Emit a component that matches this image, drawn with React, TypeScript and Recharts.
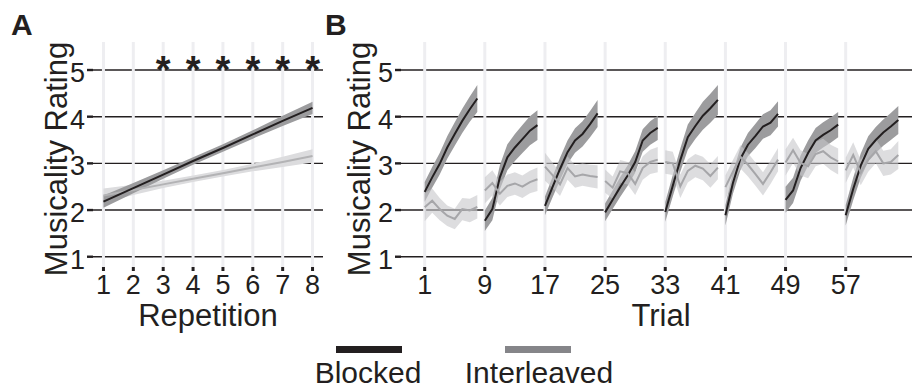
import React from 'react';
import { ComposedChart, Line, Area, XAxis, YAxis, CartesianGrid, Scatter } from 'recharts';

// ---------- Panel A: rating by repetition ----------
const repetitions = [1, 2, 3, 4, 5, 6, 7, 8];
const repBlocked = [2.18, 2.47, 2.76, 3.05, 3.33, 3.62, 3.91, 4.19];
const repBlockedSE = [0.13, 0.11, 0.09, 0.08, 0.08, 0.09, 0.11, 0.13];
const repInterleaved = [2.31, 2.43, 2.55, 2.67, 2.79, 2.91, 3.03, 3.16];
const repInterleavedSE = [0.15, 0.11, 0.08, 0.07, 0.07, 0.08, 0.11, 0.14];
const sigRepetitions = [3, 4, 5, 6, 7, 8];
const sigLevel = 5.17;

// ---------- Panel B: rating by trial ----------
const trialsPerBlock = 8;
const trialTicks = [1, 9, 17, 25, 33, 41, 49, 57];
const ratingTicks = [1, 2, 3, 4, 5];

const trialBlocked = [
  2.39, 2.70, 2.99, 3.34, 3.63, 3.91, 4.16, 4.39,
  1.77, 2.02, 2.70, 3.13, 3.34, 3.52, 3.70, 3.82,
  2.09, 2.49, 2.88, 3.24, 3.49, 3.63, 3.84, 4.07,
  1.95, 2.22, 2.49, 2.74, 3.03, 3.49, 3.65, 3.76,
  1.96, 2.52, 3.07, 3.56, 3.80, 4.02, 4.18, 4.36,
  1.89, 2.58, 3.10, 3.40, 3.59, 3.79, 3.87, 4.06,
  2.22, 2.42, 2.90, 3.22, 3.49, 3.61, 3.71, 3.83,
  1.89, 2.45, 2.95, 3.31, 3.50, 3.66, 3.79, 3.93,
];
const trialBlockedSE = [
  0.21, 0.22, 0.23, 0.24, 0.25, 0.26, 0.27, 0.29,
  0.22, 0.24, 0.26, 0.28, 0.29, 0.30, 0.31, 0.32,
  0.20, 0.22, 0.24, 0.25, 0.26, 0.27, 0.28, 0.29,
  0.19, 0.20, 0.21, 0.22, 0.23, 0.24, 0.25, 0.26,
  0.21, 0.23, 0.25, 0.27, 0.28, 0.30, 0.31, 0.32,
  0.22, 0.23, 0.24, 0.25, 0.26, 0.26, 0.27, 0.27,
  0.28, 0.27, 0.27, 0.27, 0.27, 0.27, 0.27, 0.27,
  0.22, 0.24, 0.26, 0.27, 0.28, 0.28, 0.29, 0.30,
];
const trialInterleaved = [
  2.06, 2.20, 2.02, 1.88, 1.81, 2.02, 1.99, 2.07,
  2.42, 2.58, 2.35, 2.52, 2.57, 2.50, 2.60, 2.66,
  2.93, 2.75, 2.55, 2.90, 2.72, 2.76, 2.73, 2.71,
  2.62, 2.48, 2.83, 2.79, 2.56, 2.90, 3.03, 3.08,
  3.03, 3.00, 2.51, 2.84, 2.95, 2.89, 2.73, 2.91,
  2.49, 2.82, 3.14, 2.97, 2.77, 2.56, 2.81, 3.08,
  3.02, 3.28, 3.01, 2.94, 3.20, 3.26, 3.13, 3.04,
  2.85, 3.18, 2.80, 3.08, 3.26, 3.00, 3.03, 3.18,
];
const trialInterleavedSE = [
  0.30, 0.26, 0.24, 0.22, 0.22, 0.24, 0.25, 0.25,
  0.28, 0.27, 0.25, 0.24, 0.24, 0.24, 0.24, 0.25,
  0.30, 0.27, 0.25, 0.25, 0.24, 0.24, 0.24, 0.25,
  0.25, 0.24, 0.24, 0.24, 0.24, 0.25, 0.26, 0.27,
  0.25, 0.25, 0.25, 0.25, 0.25, 0.25, 0.25, 0.25,
  0.25, 0.25, 0.25, 0.25, 0.25, 0.25, 0.25, 0.25,
  0.28, 0.27, 0.27, 0.26, 0.26, 0.27, 0.27, 0.28,
  0.27, 0.27, 0.27, 0.26, 0.26, 0.27, 0.27, 0.30,
];

const INK = '#231f20';
const FONT = '"Liberation Sans", Arial, Helvetica, sans-serif';

const repData = repetitions.map((rep, k) => ({
  rep,
  b: repBlocked[k],
  bRange: [repBlocked[k] - repBlockedSE[k], repBlocked[k] + repBlockedSE[k]],
  i: repInterleaved[k],
  iRange: [repInterleaved[k] - repInterleavedSE[k], repInterleaved[k] + repInterleavedSE[k]],
}));
const starData = sigRepetitions.map((rep) => ({ rep, star: sigLevel }));

const trialData: any[] = [];
trialBlocked.forEach((b, k) => {
  const trial = k + 1;
  const i = trialInterleaved[k];
  trialData.push({
    trial,
    b,
    bRange: [b - trialBlockedSE[k], b + trialBlockedSE[k]],
    i,
    iRange: [i - trialInterleavedSE[k], i + trialInterleavedSE[k]],
  });
  if (trial % trialsPerBlock === 0 && trial < trialBlocked.length) {
    trialData.push({ trial: trial + 0.5, b: null, bRange: null, i: null, iRange: null });
  }
});

const YTick = (props: any) => {
  const { x, y, payload } = props;
  return (
    <text x={x} y={y + 12} textAnchor="end" fontSize={27} fill={INK} fontFamily={FONT}>
      {payload.value}
    </text>
  );
};
const XTick = (props: any) => {
  const { x, y, payload } = props;
  return (
    <text x={x} y={y + 21} textAnchor="middle" fontSize={27} fill={INK} fontFamily={FONT}>
      {payload.value}
    </text>
  );
};
const Star = (props: any) => {
  const { cx, cy } = props;
  return (
    <text x={cx} y={cy + 21} textAnchor="middle" fontSize={38} fontWeight="bold" fill={INK} fontFamily={FONT}>
      *
    </text>
  );
};

const yDomain = [0.78, 5.6];

export default function App() {
  return (
    <div style={{ position: 'fixed', left: 0, top: 0, width: 912, height: 389, overflow: 'hidden', background: '#fff' }}>
      <div style={{ position: 'absolute', left: 0, top: 0 }}>
        <ComposedChart width={340} height={300} data={repData} margin={{ top: 42, right: 17, bottom: 0, left: 0 }}>
          <CartesianGrid horizontal={true} vertical={false} syncWithTicks stroke={INK} strokeWidth={1.4} />
          <CartesianGrid horizontal={false} vertical={true} syncWithTicks stroke="#eeeef1" strokeWidth={3} />
          <XAxis
            dataKey="rep"
            type="number"
            domain={[0.65, 8.35]}
            ticks={repetitions}
            interval={0}
            allowDataOverflow
            height={33}
            axisLine={false}
            tickSize={4}
            tickMargin={2}
            tickLine={{ stroke: INK, strokeWidth: 3 }}
            tick={<XTick />}
          />
          <YAxis
            type="number"
            domain={yDomain}
            ticks={ratingTicks}
            interval={0}
            allowDataOverflow
            width={93}
            axisLine={false}
            tickSize={6}
            tickMargin={2}
            tickLine={{ stroke: INK, strokeWidth: 2.4 }}
            tick={<YTick />}
          />
          <Area dataKey="iRange" type="linear" stroke="none" fill="#dcdcde" fillOpacity={1} isAnimationActive={false} activeDot={false} />
          <Area dataKey="bRange" type="linear" stroke="none" fill="#9c9c9e" fillOpacity={1} isAnimationActive={false} activeDot={false} />
          <Line dataKey="i" type="linear" stroke="#b3b3b5" strokeWidth={2} dot={false} activeDot={false} isAnimationActive={false} />
          <Line dataKey="b" type="linear" stroke={INK} strokeWidth={2} dot={false} activeDot={false} isAnimationActive={false} />
          <Scatter data={starData} dataKey="star" shape={<Star />} isAnimationActive={false} />
        </ComposedChart>
      </div>
      <div style={{ position: 'absolute', left: 340, top: 0 }}>
        <ComposedChart width={600} height={300} data={trialData} margin={{ top: 42, right: 18, bottom: 0, left: 0 }}>
          <CartesianGrid horizontal={true} vertical={false} syncWithTicks stroke={INK} strokeWidth={1.4} />
          <CartesianGrid horizontal={false} vertical={true} syncWithTicks stroke="#eeeef1" strokeWidth={3} />
          <XAxis
            dataKey="trial"
            type="number"
            domain={[-2.15, 67.15]}
            ticks={trialTicks}
            interval={0}
            allowDataOverflow
            height={33}
            axisLine={false}
            tickSize={4}
            tickMargin={2}
            tickLine={{ stroke: INK, strokeWidth: 3 }}
            tick={<XTick />}
          />
          <YAxis
            type="number"
            domain={yDomain}
            ticks={ratingTicks}
            interval={0}
            allowDataOverflow
            width={61}
            axisLine={false}
            tickSize={6}
            tickMargin={2}
            tickLine={{ stroke: INK, strokeWidth: 2.4 }}
            tick={<YTick />}
          />
          <Area dataKey="bRange" type="linear" stroke="none" fill="#9c9c9e" fillOpacity={1} isAnimationActive={false} activeDot={false} />
          <Line dataKey="b" type="linear" stroke={INK} strokeWidth={2} dot={false} activeDot={false} isAnimationActive={false} />
          <Area dataKey="iRange" type="linear" stroke="none" fill="#c6c6c9" fillOpacity={0.6} isAnimationActive={false} activeDot={false} />
          <Line dataKey="i" type="linear" stroke="#a6a6a9" strokeWidth={2} dot={false} activeDot={false} isAnimationActive={false} />
        </ComposedChart>
      </div>
      <svg width={912} height={389} style={{ position: 'absolute', left: 0, top: 0, pointerEvents: 'none' }} fontFamily={FONT}>
        <text x={11} y={35} fontSize={30} fontWeight="bold" fill={INK}>A</text>
        <text x={325} y={35} fontSize={30} fontWeight="bold" fill={INK}>B</text>
        <text x={67} y={159} transform="rotate(-90 67 159)" textAnchor="middle" fontSize={31} fill={INK}>Musicality Rating</text>
        <text x={370} y={159} transform="rotate(-90 370 159)" textAnchor="middle" fontSize={31} fill={INK}>Musicality Rating</text>
        <text x={208} y={326} textAnchor="middle" fontSize={31} fill={INK}>Repetition</text>
        <text x={661} y={326} textAnchor="middle" fontSize={31} fill={INK}>Trial</text>
        <rect x={336} y={346} width={66} height={7} fill={INK} />
        <rect x={505} y={346} width={66} height={7} fill="#858589" />
        <text x={368} y={383} textAnchor="middle" fontSize={30} fill={INK}>Blocked</text>
        <text x={539} y={383} textAnchor="middle" fontSize={30} fill={INK}>Interleaved</text>
      </svg>
    </div>
  );
}
